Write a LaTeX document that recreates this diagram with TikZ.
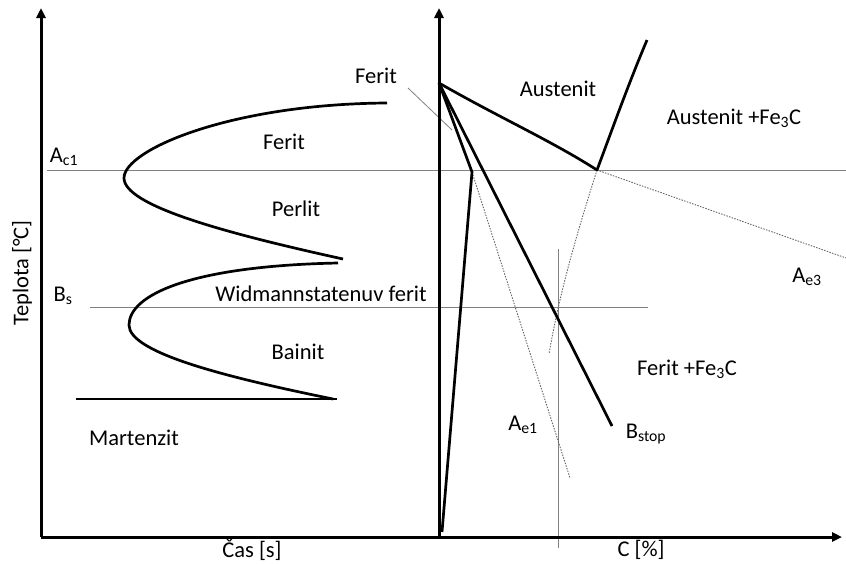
\documentclass[tikz,border=0pt]{standalone}
\usepackage{fontspec}
\setmainfont{Carlito}
\usetikzlibrary{arrows.meta}
\tikzset{
  axis/.style={line width=3pt,-{Triangle[length=10pt,width=9pt]}},
  thick curve/.style={line width=2.7pt,line join=round},
  thinline/.style={line width=0.8pt,draw=black!50},
  dotline/.style={line width=0.9pt,draw=black!60,dash pattern=on 1.5pt off 1.3pt},
  lbl/.style={font=\fontsize{22.5}{26}\selectfont,inner sep=0pt}
}
\begin{document}
\begin{tikzpicture}[x=1pt,y=-1pt]
\useasboundingbox (0,0) rectangle (846,563);
% coordinates
\coordinate (O1) at (41,537);
\coordinate (T1) at (41,8);
\coordinate (XE) at (842,537);
\coordinate (O2) at (439,537);
\coordinate (T2) at (439,8);
\coordinate (apex) at (439,83);
\coordinate (fp) at (472,172);
\coordinate (fb) at (442,532);
\coordinate (eut) at (597,170);
\coordinate (acm) at (647,40);
\coordinate (bstop) at (612,426);
% thin lines
\draw[thinline] (47,170) coordinate (ac1a) -- (846,170) coordinate (ac1b);
\draw[thinline] (90,307) coordinate (bsa) -- (648,307) coordinate (bsb);
\draw[thinline] (558,249) coordinate (va) -- (558,548) coordinate (vb);
\draw[thinline] (408,88) coordinate (fa) -- (452,130) coordinate (fbp);
% dotted
\draw[dotline] (fp) -- (570,478) coordinate (ae1e);
\draw[dotline] (eut) .. controls (578,230) and (560,290) .. (549,354) coordinate (acmext);
\draw[dotline] (eut) -- (846,258) coordinate (ae3e);
% axes
\draw[axis] (O1) -- (T1);
\draw[axis] (O1) -- (XE);
\draw[axis] (O2) -- (T2);
% left curves
\draw[thick curve] (387,103) .. controls (230,104) and (124,150) .. (124,178)
  .. controls (124,205) and (220,232) .. (343,259);
\draw[thick curve] (338,263) .. controls (190,266) and (129,295) .. (129,325)
  .. controls (129,352) and (220,376) .. (333,399);
\draw[thick curve] (76,399) -- (337,399);
% right curves
\draw[thick curve] (apex) -- (fp) -- (fb);
\draw[thick curve] (apex) -- (bstop);
\draw[thick curve] (apex) .. controls (500,118) and (550,140) .. (eut)
  .. controls (612,130) and (628,85) .. (acm);
% labels
\node[lbl] (tl) at (22,273) [rotate=90] {Teplota [°C]};
\node[lbl] (cas) at (252,550) {Čas [s]};
\node[lbl] (cp) at (641,550) {C [\%]};
\node[lbl] (ac1) at (64,157) {A\textsubscript{c1}};
\node[lbl] (bs) at (63,296) {B\textsubscript{s}};
\node[lbl] (f1) at (376,76) {Ferit};
\node[lbl] (f2) at (284,142) {Ferit};
\node[lbl] (pl) at (296,209) {Perlit};
\node[lbl] (wf) at (321,294) {Widmannstatenuv ferit};
\node[lbl] (bn) at (298,352) {Bainit};
\node[lbl] (mz) at (134,438) {Martenzit};
\node[lbl] (au) at (558,89) {Austenit};
\node[lbl] (afc) at (734,118) {Austenit +Fe\textsubscript{3}C};
\node[lbl] (ae3) at (807,277) {A\textsubscript{e3}};
\node[lbl] (ffc) at (687,369) {Ferit +Fe\textsubscript{3}C};
\node[lbl] (ae1) at (523,425) {A\textsubscript{e1}};
\node[lbl] (bst) at (646,434) {B\textsubscript{stop}};
\end{tikzpicture}
\end{document}
